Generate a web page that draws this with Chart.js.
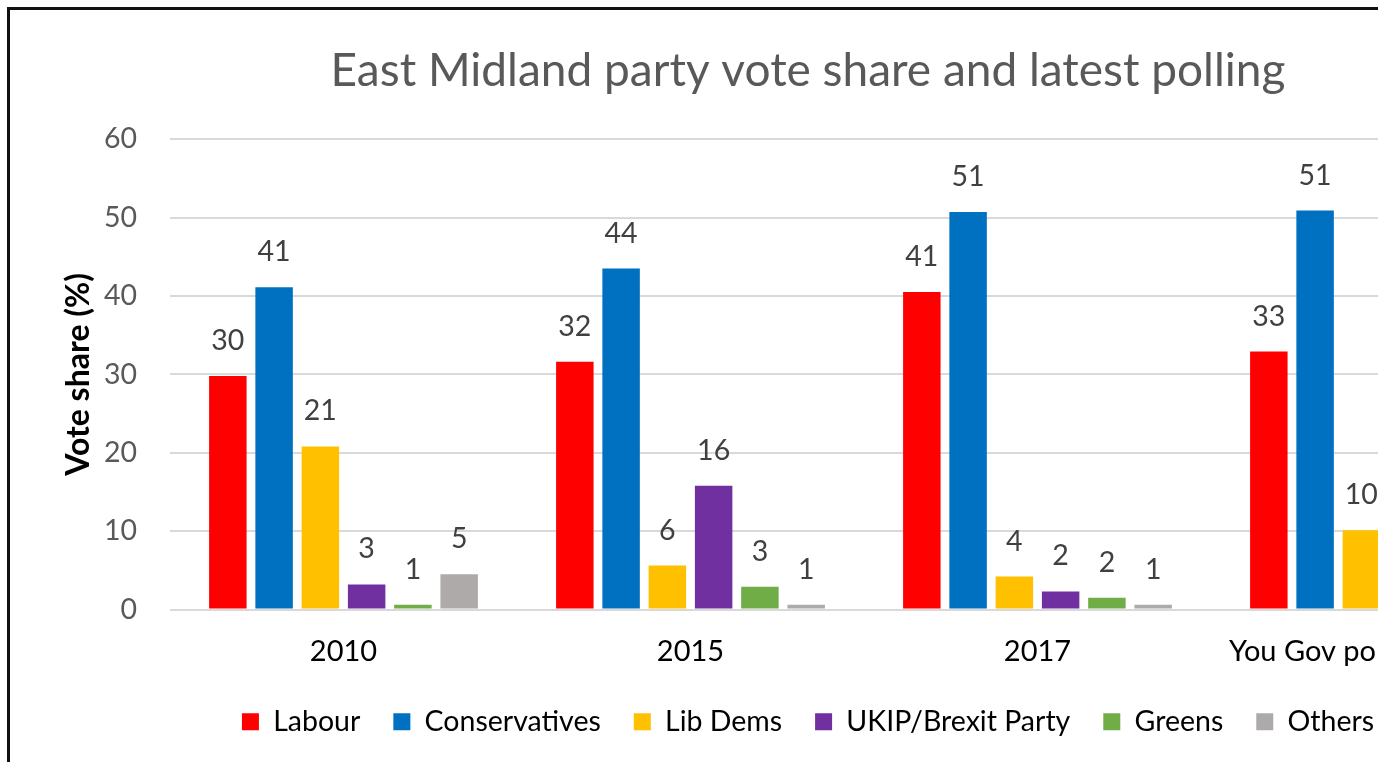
<!DOCTYPE html>
<html lang="en">

<head>
  <meta charset="UTF-8" />
  <title>East Midland party vote share</title>
  <script src="https://cdn.jsdelivr.net/npm/chart.js"></script>
  <style>
    body {
      margin: 0;
      overflow: hidden;
      background: #fff;
    }

    .frame {
      position: absolute;
      left: 7px;
      top: 7px;
      width: 1600px;
      height: 820px;
      border-left: 3px solid #111;
      border-top: 3px solid #111;
    }
  </style>
</head>

<body>
  <div class="frame">
    <canvas id="voteChart" width="1548" height="800"></canvas>
  </div>

  <script>
    const categories = ['2010', '2015', '2017', 'You Gov poll (Nov 2019)'];

    const labour = [29.8, 31.6, 40.5, 32.9];
    const conservatives = [41.1, 43.5, 50.7, 50.9];
    const libDems = [20.8, 5.6, 4.2, 10.1];
    const ukipBrexit = [3.2, 15.8, 2.3, 3.0];
    const greens = [0.6, 2.9, 1.5, 3.0];
    const others = [4.5, 0.6, 0.6, 1.0];

    const yTicks = [0, 10, 20, 30, 40, 50, 60];

    const FONT = 'Lato';

    // values above each bar, rounded like the original
    const barLabels = {
      id: 'barLabels',
      afterDatasetsDraw(chart) {
        const ctx = chart.ctx;
        ctx.save();
        ctx.font = '28.5px ' + FONT;
        ctx.fillStyle = '#404040';
        ctx.textAlign = 'center';
        ctx.textBaseline = 'alphabetic';
        chart.data.datasets.forEach((ds, i) => {
          chart.getDatasetMeta(i).data.forEach((bar, j) => {
            ctx.fillText(Math.round(ds.data[j]), bar.x, bar.y - 26);
          });
        });
        ctx.restore();
      }
    };

    new Chart(document.getElementById('voteChart'), {
      type: 'bar',
      data: {
        labels: categories,
        datasets: [
          { label: 'Labour', data: labour, backgroundColor: '#FF0000' },
          { label: 'Conservatives', data: conservatives, backgroundColor: '#0070C0' },
          { label: 'Lib Dems', data: libDems, backgroundColor: '#FFC000' },
          { label: 'UKIP/Brexit Party', data: ukipBrexit, backgroundColor: '#7030A0' },
          { label: 'Greens', data: greens, backgroundColor: '#70AD47' },
          { label: 'Others', data: others, backgroundColor: '#AEAAAA' },
        ],
      },
      options: {
        responsive: false,
        animation: false,
        devicePixelRatio: 1,
        categoryPercentage: 0.8,
        barPercentage: 0.81,
        layout: {
          padding: { left: 48, right: 0, top: 0, bottom: 64 },
        },
        plugins: {
          title: {
            display: true,
            text: 'East Midland party vote share and latest polling',
            color: '#595959',
            font: { family: FONT, size: 46, weight: 'normal' },
            padding: { top: 34, bottom: 40 },
          },
          legend: {
            position: 'bottom',
            labels: {
              color: '#000',
              font: { family: FONT, size: 28.5 },
              boxWidth: 17,
              boxHeight: 17,
              padding: 33,
            },
          },
          tooltip: { enabled: false },
        },
        scales: {
          x: {
            grid: { display: false },
            border: { display: false },
            ticks: {
              color: '#000',
              font: { family: FONT, size: 29 },
              padding: 17,
              maxRotation: 0,
              autoSkip: false,
            },
            afterFit(scale) {
              scale.height = 65;
            },
          },
          y: {
            min: 0,
            max: 60,
            afterBuildTicks(scale) {
              scale.ticks = yTicks.map(v => ({ value: v }));
            },
            grid: { color: '#D9D9D9', lineWidth: 2, drawTicks: false },
            border: { display: false },
            ticks: {
              color: '#595959',
              font: { family: FONT, size: 28.5 },
              padding: 33,
            },
            title: {
              display: true,
              text: 'Vote share (%)',
              color: '#000',
              font: { family: FONT, size: 32, weight: 'bold' },
              padding: { top: 1, bottom: 0 },
            },
            afterFit(scale) {
              scale.width = 112;
            },
          },
        },
      },
      plugins: [barLabels],
    });
  </script>
</body>

</html>
